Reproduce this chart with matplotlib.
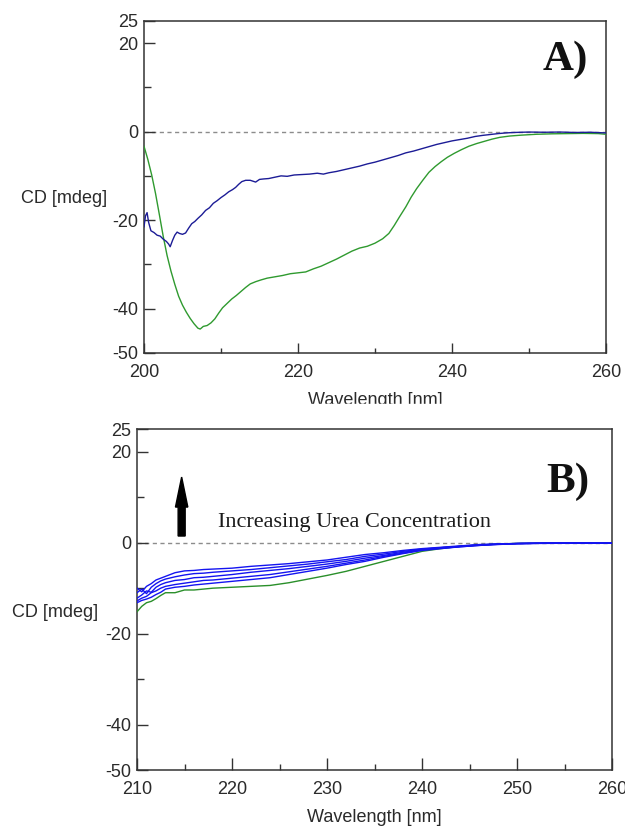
import matplotlib
matplotlib.use("Agg")
import matplotlib.pyplot as plt
from matplotlib.patches import Rectangle

plt.rcParams['font.family'] = ['Liberation Sans', 'DejaVu Sans']
plt.rcParams['axes.unicode_minus'] = False

# ---- panel A: native protein, two spectra ----
wl_a_blue = [200.0, 200.2, 200.4, 200.6, 200.9, 201.3, 201.7, 202.1, 202.5, 202.9,
             203.2, 203.4, 203.7, 204.0, 204.3, 204.6, 205.0, 205.4, 205.8, 206.2,
             206.6, 207.0, 207.5, 208.0, 208.5, 209.0, 209.5, 210.0, 210.5, 211.0,
             211.5, 211.9, 212.3, 212.7, 213.2, 213.8, 214.5, 215.0, 215.5, 216.2,
             217.0, 217.8, 218.6, 219.5, 220.5, 221.5, 222.5, 223.3, 224.0, 225.0,
             226.0, 227.0, 228.0, 229.0, 230.0, 231.0, 232.0, 233.0, 234.0, 235.0,
             236.0, 237.0, 238.0, 239.0, 240.0, 241.0, 242.0, 243.0, 244.0, 245.0,
             246.0, 247.0, 248.0, 250.0, 252.0, 254.0, 256.0, 258.0, 260.0]
cd_a_blue = [-21.5, -19.0, -18.3, -20.5, -22.4, -22.8, -23.4, -23.6, -24.3, -24.8,
             -25.4, -26.0, -24.6, -23.4, -22.7, -23.0, -23.2, -22.9, -21.8, -20.8,
             -20.3, -19.6, -18.8, -17.8, -17.2, -16.2, -15.6, -14.9, -14.3, -13.6,
             -13.1, -12.6, -11.9, -11.3, -11.0, -11.0, -11.4, -10.8, -10.7, -10.6,
             -10.3, -10.0, -10.1, -9.8, -9.7, -9.6, -9.4, -9.6, -9.3, -9.0,
             -8.6, -8.2, -7.8, -7.3, -6.9, -6.4, -5.9, -5.4, -4.8, -4.4,
             -3.9, -3.4, -2.9, -2.5, -2.1, -1.8, -1.5, -1.1, -0.85, -0.65,
             -0.45, -0.3, -0.2, -0.1, -0.15, -0.1, -0.2, -0.15, -0.3]

wl_a_green = [200.0, 200.5, 201.0, 201.5, 202.0, 202.5, 203.0, 203.5, 204.0, 204.5,
              205.0, 205.5, 206.0, 206.5, 207.0, 207.3, 207.7, 208.2, 208.7, 209.2,
              209.7, 210.2, 210.8, 211.4, 212.0, 212.6, 213.2, 213.8, 214.5, 215.2,
              216.0, 217.0, 218.0, 219.0, 220.0, 221.0, 222.0, 223.0, 224.0, 225.0,
              226.0, 227.0, 228.0, 229.0, 230.0, 231.0, 231.8, 232.5, 233.2, 234.0,
              234.7, 235.4, 236.2, 237.0, 237.8, 238.6, 239.4, 240.3, 241.2, 242.2,
              243.2, 244.2, 245.2, 246.2, 247.5, 249.0, 251.0, 253.0, 255.0, 257.0,
              259.0, 260.0]
cd_a_green = [-3.3, -6.3, -9.8, -14.0, -18.8, -23.7, -28.0, -31.5, -34.5, -37.2,
              -39.2, -40.8, -42.2, -43.4, -44.4, -44.6, -44.0, -43.8, -43.2, -42.3,
              -41.0, -39.8, -38.8, -37.8, -37.0, -36.1, -35.2, -34.4, -33.9, -33.5,
              -33.1, -32.8, -32.5, -32.1, -31.9, -31.7, -31.0, -30.4, -29.6, -28.8,
              -27.9, -27.0, -26.3, -25.9, -25.2, -24.2, -23.0, -21.2, -19.2, -17.0,
              -14.8, -12.9, -11.0, -9.2, -7.9, -6.8, -5.8, -4.9, -4.1, -3.3,
              -2.7, -2.2, -1.7, -1.3, -1.0, -0.8, -0.6, -0.5, -0.45, -0.4,
              -0.45, -0.6]

# ---- panel B: urea titration ----
wl_b = [210, 210.5, 211, 211.5, 212, 212.5, 213, 214, 215, 216, 217, 218, 220, 222,
        224, 226, 228, 230, 232, 234, 236, 238, 240, 242, 244, 246, 248, 250, 253,
        256, 260]
cd_b_green = [-15.2, -14.0, -13.2, -12.9, -12.3, -11.6, -11.0, -11.0, -10.4, -10.4,
              -10.2, -10.0, -9.8, -9.6, -9.4, -8.8, -8.0, -7.2, -6.3, -5.2, -4.1,
              -3.0, -1.9, -1.3, -0.8, -0.5, -0.3, -0.15, -0.1, -0.05, -0.1]
cd_b_blue1 = [-10.0, -10.8, -9.6, -9.0, -8.2, -7.8, -7.4, -6.6, -6.2, -6.1, -5.9,
              -5.8, -5.6, -5.2, -4.9, -4.6, -4.2, -3.8, -3.2, -2.6, -2.2, -1.7,
              -1.3, -1.0, -0.7, -0.4, -0.3, -0.15, -0.1, -0.05, -0.1]
cd_b_blue2 = [-11.0, -10.2, -11.2, -9.8, -9.0, -8.4, -8.0, -7.5, -7.1, -6.8, -6.7,
              -6.5, -6.2, -5.9, -5.5, -5.1, -4.7, -4.2, -3.7, -3.0, -2.5, -1.9,
              -1.4, -1.1, -0.8, -0.5, -0.3, -0.2, -0.1, -0.1, -0.1]
cd_b_blue3 = [-12.2, -11.5, -10.6, -10.9, -9.8, -9.2, -8.8, -8.3, -8.1, -7.7, -7.6,
              -7.4, -7.0, -6.5, -6.1, -5.7, -5.2, -4.7, -4.1, -3.4, -2.8, -2.1,
              -1.5, -1.1, -0.8, -0.5, -0.3, -0.2, -0.1, -0.1, -0.1]
cd_b_blue4 = [-12.8, -12.2, -11.8, -11.0, -10.6, -10.0, -9.6, -9.2, -8.9, -8.6, -8.3,
              -8.2, -7.8, -7.4, -7.0, -6.4, -5.8, -5.2, -4.5, -3.8, -3.0, -2.3,
              -1.6, -1.2, -0.9, -0.6, -0.35, -0.2, -0.1, -0.1, -0.1]
cd_b_blue5 = [-13.2, -12.7, -12.4, -12.0, -11.4, -10.9, -10.2, -9.8, -9.6, -9.3, -9.1,
              -8.9, -8.5, -8.1, -7.7, -7.0, -6.3, -5.6, -4.8, -4.1, -3.2, -2.4,
              -1.7, -1.3, -0.9, -0.6, -0.4, -0.2, -0.15, -0.1, -0.1]
blue_b = [cd_b_blue1, cd_b_blue2, cd_b_blue3, cd_b_blue4, cd_b_blue5]

y_ticks = [25, 20, 0, -20, -40, -50]
y_minor = [10, -10, -30]

txt = '#2a2a2a'
fig = plt.figure(figsize=(6.25, 8.27), dpi=100)
axA = fig.add_axes([0.2304, 0.5732, 0.7392, 0.4015])
axB = fig.add_axes([0.2192, 0.0689, 0.76, 0.4123])


def style(ax, xlim, xmajor, xminor, maj_len):
    ax.set_xlim(*xlim)
    ax.set_ylim(-50, 25)
    ax.set_xticks(xmajor)
    ax.set_xticks(xminor, minor=True)
    ax.set_yticks(y_ticks)
    ax.set_yticks(y_minor, minor=True)
    ax.axhline(0, color='#8c8c8c', lw=1.0, ls=(0, (3, 2.5)), zorder=1)
    for s in ax.spines.values():
        s.set_color('#333333')
        s.set_linewidth(1.1)
    ax.tick_params(which='both', direction='in', color='#333333', width=1.0,
                   labelsize=13, labelcolor=txt)
    ax.tick_params(axis='x', which='major', length=maj_len, pad=8)
    ax.tick_params(axis='x', which='minor', length=maj_len * 0.55)
    ax.tick_params(axis='y', which='major', length=8, pad=4)
    ax.tick_params(axis='y', which='minor', length=5)
    ax.set_ylabel('CD [mdeg]', rotation=0, fontsize=13, color=txt,
                  ha='center', va='center')
    ax.set_xlabel('Wavelength [nm]', fontsize=13, color=txt, va='center')


style(axA, (200, 260), [200, 220, 240, 260], [210, 230, 250], 7)
axA.plot(wl_a_green, cd_a_green, color='#2f9a2f', lw=1.0, zorder=3)
axA.plot(wl_a_blue, cd_a_blue, color='#1c1c96', lw=1.0, zorder=3)
axA.yaxis.set_label_coords(-0.172, 0.464)
axA.xaxis.set_label_coords(0.5, -0.142)
axA.text(0.913, 0.852, 'A)', transform=axA.transAxes, ha='center', va='baseline',
         fontsize=31, fontweight='bold', family='Liberation Serif', color='#111111')

style(axB, (210, 260), [210, 220, 230, 240, 250, 260],
      [215, 225, 235, 245, 255], 8.5)
axB.plot(wl_b, cd_b_green, color='#2a8f2a', lw=1.0, zorder=3)
for c in blue_b:
    axB.plot(wl_b, c, color='#1414f0', lw=1.0, zorder=4)
axB.yaxis.set_label_coords(-0.173, 0.463)
axB.xaxis.set_label_coords(0.5, -0.138)
axB.text(0.907, 0.815, 'B)', transform=axB.transAxes, ha='center', va='baseline',
         fontsize=31, fontweight='bold', family='Liberation Serif', color='#111111')
axB.text(218.5, 3.45, 'Increasing Urea Concentration', ha='left', va='baseline',
         fontsize=16, family='Liberation Serif', color='#1a1a1a')
axB.arrow(214.7, 1.47, 0, 12.97, width=0.74, head_width=1.3, head_length=6.6,
          length_includes_head=True, color='black', zorder=5)

# the upper panel's axis title is cut off in the source figure
fig.patches.append(Rectangle((0, 1 - 418 / 827), 1, 14 / 827,
                             transform=fig.transFigure, color='white', zorder=10))

fig.savefig('out.png', dpi=100)
